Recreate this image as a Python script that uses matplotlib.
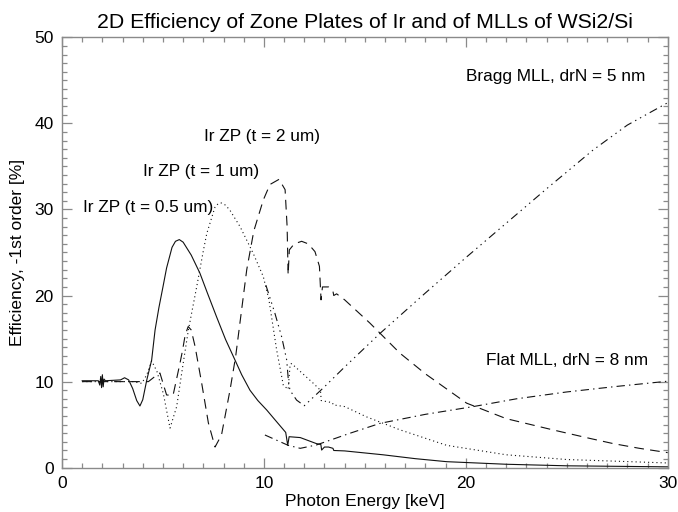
import matplotlib
matplotlib.use("Agg")
import matplotlib.pyplot as plt
from matplotlib.ticker import MultipleLocator

plt.rcParams['font.family'] = ['Liberation Sans', 'DejaVu Sans']
plt.rcParams['lines.scale_dashes'] = False

# ---- data ----
zp05_x = [1.0, 1.8, 1.87, 1.92, 1.96, 2.0, 2.04, 2.08, 2.15, 2.9, 3.1, 3.3, 3.5, 3.7, 3.86,
          4.0, 4.2, 4.44, 4.61, 4.8, 5.0, 5.18, 5.45, 5.62, 5.81, 6.0, 6.4, 6.83, 7.2, 7.66,
          8.1, 8.57, 8.9, 9.31, 9.7, 10.14, 10.5, 11.08, 11.18, 11.25, 11.8, 12.6, 12.82,
          12.86, 13.0, 13.2, 13.42, 13.46, 14.0, 15.9, 17.5, 19.05, 22.0, 25.0, 30.0]
zp05_y = [10.1, 10.1, 9.6, 10.6, 9.3, 10.8, 9.4, 10.3, 10.1, 10.2, 10.45, 10.2, 9.2, 7.8, 7.17,
          7.9, 10.2, 12.5, 16.0, 18.6, 21.0, 23.2, 25.6, 26.3, 26.5, 26.2, 24.7, 22.6, 20.3, 17.5,
          14.9, 12.5, 10.8, 9.0, 7.8, 6.7, 5.7, 4.1, 2.6, 3.6, 3.5, 2.8, 2.7,
          2.05, 2.4, 2.4, 2.25, 2.0, 1.95, 1.5, 1.05, 0.7, 0.4, 0.22, 0.1]

zp1_x = [1.0, 3.5, 3.95, 4.2, 4.44, 4.7, 5.02, 5.35, 5.68, 6.0, 6.26, 6.67, 7.0, 7.17, 7.58,
         7.75, 7.9, 8.1, 8.32, 8.82, 9.47, 9.97, 10.25, 10.63, 10.96, 11.2, 11.3, 11.37, 12.45,
         12.8, 12.84, 13.4, 13.43, 14.0, 15.09, 16.74, 19.05, 22.0, 25.0, 30.0]
zp1_y = [10.0, 10.0, 9.8, 10.8, 12.4, 11.2, 8.6, 4.6, 7.1, 12.1, 16.0, 21.0, 25.2, 27.2, 30.3,
         30.7, 30.75, 30.5, 29.9, 28.0, 24.9, 22.2, 19.5, 13.7, 9.6, 9.1, 12.0, 12.1, 9.8,
         9.0, 7.8, 7.55, 7.3, 7.1, 5.9, 4.4, 2.6, 1.5, 0.95, 0.55]

zp2_x = [1.0, 4.28, 4.55, 4.85, 5.18, 5.5, 5.84, 5.96, 6.1, 6.25, 6.4, 6.59, 6.92, 7.25, 7.58,
         7.9, 8.32, 8.6, 9.15, 9.5, 9.97, 10.3, 10.75, 11.05, 11.15, 11.2, 11.26, 11.5, 11.87,
         12.2, 12.53, 12.75, 12.83, 12.9, 13.2, 13.42, 13.46, 13.6, 14.0, 15.25, 16.74, 18.0,
         20.04, 22.0, 24.3, 26.15, 27.3, 28.6, 30.0]
zp2_y = [10.0, 10.0, 10.5, 11.0, 8.45, 8.4, 12.1, 13.5, 15.4, 16.4, 16.0, 14.1, 9.8, 5.2, 2.4,
         3.8, 9.0, 12.9, 23.0, 27.5, 31.1, 32.9, 33.5, 32.3, 28.0, 22.4, 25.3, 26.0, 26.3,
         26.0, 25.1, 23.4, 19.5, 21.0, 21.0, 20.5, 20.0, 20.2, 19.5, 16.8, 13.3, 10.9,
         7.5, 5.7, 4.4, 3.4, 2.8, 2.25, 1.75]

bragg_x = [10.1, 10.55, 10.88, 11.13, 11.21, 11.29, 11.62, 12.0, 13.0, 14.0, 15.75, 18.0,
           20.0, 22.0, 24.0, 26.3, 28.0, 30.0]
bragg_y = [21.2, 17.9, 15.2, 12.5, 10.2, 9.0, 7.85, 7.2, 9.4, 11.7, 15.6, 20.3,
           24.4, 28.4, 32.4, 36.9, 39.8, 42.4]

flat_x = [10.05, 11.2, 11.8, 12.6, 14.26, 15.75, 18.0, 20.37, 22.5, 25.0, 27.5, 29.8, 30.0]
flat_y = [3.8, 2.6, 2.25, 2.64, 4.0, 5.15, 6.2, 7.1, 8.0, 8.8, 9.45, 10.0, 10.05]

# ---- figure ----
fig = plt.figure(figsize=(6.78, 5.12), dpi=100)
ax = fig.add_axes([62/678, 1-467.7/512, (667.7-62)/678, (467.7-37.3)/512])

lw = 0.8
c = '#111111'
ax.plot(zp05_x, zp05_y, color=c, lw=lw, ls='-')
ax.plot(zp1_x, zp1_y, color=c, lw=lw, ls=(0, (0.8, 2.2)))
ax.plot(zp2_x, zp2_y, color=c, lw=lw, ls=(0, (7, 4.5)))
ax.plot(flat_x, flat_y, color=c, lw=lw, ls=(0, (6, 3, 1, 3)))
ax.plot(bragg_x, bragg_y, color=c, lw=lw, ls=(0, (6, 3, 1, 3, 1, 3, 1, 3)))

ax.set_xlim(0, 30)
ax.set_ylim(0, 50)
ax.xaxis.set_major_locator(MultipleLocator(10))
ax.xaxis.set_minor_locator(MultipleLocator(1))
ax.yaxis.set_major_locator(MultipleLocator(10))
ax.yaxis.set_minor_locator(MultipleLocator(1))

axc = '#8a8a8a'
for s in ax.spines.values():
    s.set_color(axc)
    s.set_linewidth(1.0)
ax.tick_params(which='both', direction='in', top=True, right=True, color=axc,
               labelsize=12.5, labelcolor='black', width=0.9)
ax.tick_params(which='major', length=7, pad=6)
ax.tick_params(which='minor', length=3.5)

ax.set_title('2D Efficiency of Zone Plates of Ir and of MLLs of WSi2/Si', fontsize=15.3, pad=7)
ax.set_xlabel('Photon Energy [keV]', fontsize=12.5, labelpad=2)
ax.set_ylabel('Efficiency, -1st order [%]', fontsize=12.5, labelpad=7)

fs = 12.4
ax.text(1.02, 30.2, 'Ir ZP (t = 0.5 um)', fontsize=fs, va='center', ha='left')
ax.text(4.0, 34.4, 'Ir ZP (t = 1 um)', fontsize=fs, va='center', ha='left')
ax.text(7.03, 38.5, 'Ir ZP (t = 2 um)', fontsize=fs, va='center', ha='left')
ax.text(20.0, 45.4, 'Bragg MLL, drN = 5 nm', fontsize=fs, va='center', ha='left')
ax.text(21.0, 12.5, 'Flat MLL, drN = 8 nm', fontsize=fs, va='center', ha='left')

fig.savefig('out.png', dpi=100)
